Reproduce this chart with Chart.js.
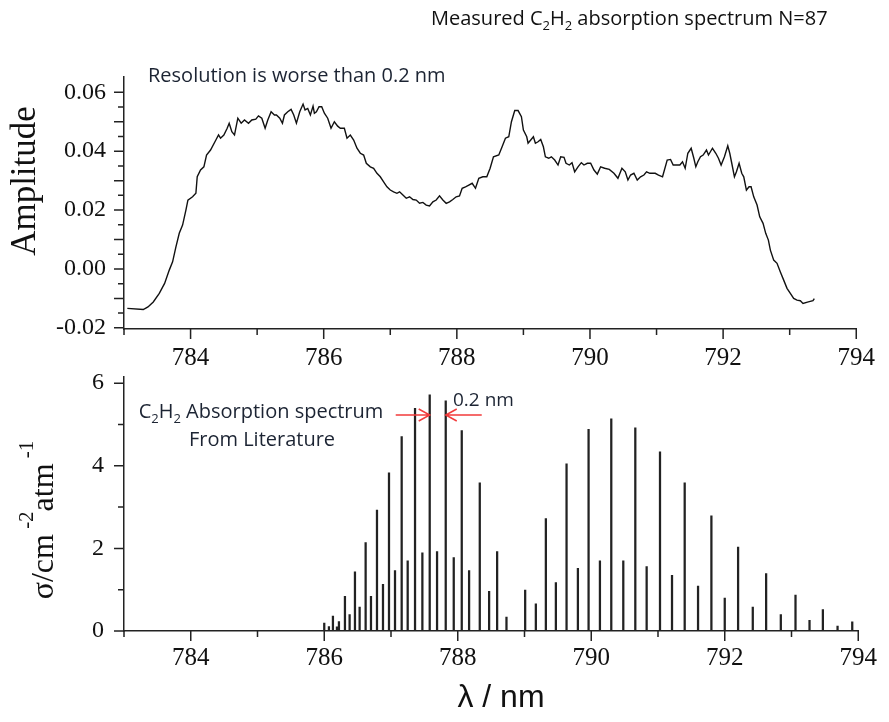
<!DOCTYPE html>
<html>
<head>
<meta charset="utf-8">
<script src="https://cdn.jsdelivr.net/npm/chart.js@4.4.0/dist/chart.umd.min.js"></script>
<style>
  body { margin: 0; background: #fff; }
  canvas { position: absolute; left: 0; top: 0; }
</style>
</head>
<body>
<canvas id="measured" width="889" height="722"></canvas>
<canvas id="literature" width="889" height="722"></canvas>
<script>
// Measured spectrum (top panel)
const measuredWl = [783.05, 783.29, 783.36, 783.44, 783.53, 783.61, 783.68, 783.73, 783.78, 783.83, 783.88, 783.93, 783.96, 784.03, 784.08, 784.10, 784.15, 784.20, 784.24, 784.30,
  784.38, 784.42, 784.45, 784.50, 784.55, 784.58, 784.62, 784.66, 784.71, 784.76, 784.81, 784.87, 784.92, 784.98, 785.02, 785.07, 785.12, 785.16, 785.21, 785.26,
  785.29, 785.34, 785.38, 785.41, 785.46, 785.51, 785.55, 785.59, 785.64, 785.69, 785.72, 785.76, 785.80, 785.84, 785.86, 785.89, 785.93, 785.97, 786.01, 786.06,
  786.11, 786.16, 786.21, 786.25, 786.31, 786.35, 786.40, 786.45, 786.50, 786.55, 786.60, 786.64, 786.70, 786.75, 786.80, 786.85, 786.90, 786.95, 787.00, 787.05,
  787.10, 787.14, 787.19, 787.24, 787.29, 787.34, 787.39, 787.44, 787.49, 787.54, 787.59, 787.64, 787.69, 787.74, 787.79, 787.84, 787.89, 787.94, 787.99, 788.04,
  788.08, 788.13, 788.18, 788.23, 788.28, 788.33, 788.39, 788.45, 788.50, 788.55, 788.63, 788.68, 788.73, 788.78, 788.82, 788.87, 788.92, 788.97, 789.00, 789.05,
  789.07, 789.11, 789.15, 789.18, 789.22, 789.26, 789.30, 789.33, 789.38, 789.42, 789.47, 789.52, 789.56, 789.61, 789.64, 789.69, 789.73, 789.77, 789.82, 789.87,
  789.91, 789.96, 790.01, 790.06, 790.11, 790.16, 790.22, 790.29, 790.36, 790.42, 790.48, 790.53, 790.57, 790.61, 790.66, 790.71, 790.76, 790.81, 790.85, 790.90,
  790.98, 791.03, 791.09, 791.16, 791.21, 791.25, 791.30, 791.35, 791.39, 791.43, 791.47, 791.52, 791.56, 791.59, 791.62, 791.66, 791.70, 791.75, 791.78, 791.84,
  791.89, 791.93, 791.97, 792.02, 792.07, 792.10, 792.13, 792.17, 792.20, 792.24, 792.28, 792.31, 792.35, 792.39, 792.42, 792.46, 792.51, 792.55, 792.60, 792.64,
  792.68, 792.71, 792.76, 792.81, 792.86, 792.91, 792.96, 793.01, 793.06, 793.11, 793.16, 793.20, 793.28, 793.35, 793.37];
const amplitude = [-0.0134, -0.0138, -0.0129, -0.0112, -0.0083, -0.0049, -0.0004, 0.0024, 0.0075, 0.0121, 0.0149, 0.0200, 0.0234, 0.0245, 0.0257, 0.0313, 0.0336, 0.0347, 0.0387, 0.0404,
  0.0438, 0.0455, 0.0444, 0.0455, 0.0478, 0.0495, 0.0466, 0.0455, 0.0512, 0.0495, 0.0506, 0.0495, 0.0506, 0.0509, 0.0520, 0.0512, 0.0478, 0.0506, 0.0534, 0.0523,
  0.0523, 0.0512, 0.0495, 0.0523, 0.0534, 0.0542, 0.0523, 0.0495, 0.0534, 0.0560, 0.0540, 0.0545, 0.0523, 0.0553, 0.0529, 0.0534, 0.0551, 0.0551, 0.0529, 0.0512,
  0.0478, 0.0500, 0.0485, 0.0478, 0.0478, 0.0444, 0.0455, 0.0438, 0.0410, 0.0393, 0.0387, 0.0359, 0.0347, 0.0342, 0.0325, 0.0313, 0.0296, 0.0279, 0.0268, 0.0262,
  0.0257, 0.0262, 0.0251, 0.0240, 0.0245, 0.0236, 0.0234, 0.0223, 0.0226, 0.0217, 0.0214, 0.0228, 0.0234, 0.0248, 0.0234, 0.0223, 0.0228, 0.0236, 0.0245, 0.0248,
  0.0274, 0.0279, 0.0285, 0.0291, 0.0274, 0.0308, 0.0313, 0.0313, 0.0342, 0.0381, 0.0387, 0.0415, 0.0444, 0.0449, 0.0500, 0.0538, 0.0538, 0.0517, 0.0472, 0.0449,
  0.0427, 0.0438, 0.0449, 0.0427, 0.0432, 0.0440, 0.0415, 0.0381, 0.0376, 0.0381, 0.0370, 0.0353, 0.0381, 0.0379, 0.0359, 0.0353, 0.0361, 0.0330, 0.0347, 0.0361,
  0.0353, 0.0359, 0.0359, 0.0336, 0.0322, 0.0347, 0.0342, 0.0338, 0.0325, 0.0308, 0.0342, 0.0330, 0.0302, 0.0319, 0.0325, 0.0302, 0.0313, 0.0319, 0.0330, 0.0325,
  0.0325, 0.0319, 0.0313, 0.0370, 0.0372, 0.0353, 0.0353, 0.0353, 0.0364, 0.0342, 0.0393, 0.0410, 0.0376, 0.0347, 0.0364, 0.0381, 0.0387, 0.0404, 0.0387, 0.0410,
  0.0393, 0.0376, 0.0353, 0.0381, 0.0418, 0.0393, 0.0359, 0.0313, 0.0330, 0.0359, 0.0325, 0.0313, 0.0268, 0.0279, 0.0279, 0.0245, 0.0217, 0.0177, 0.0155, 0.0121,
  0.0098, 0.0064, 0.0030, 0.0019, -0.0010, -0.0038, -0.0066, -0.0083, -0.0100, -0.0106, -0.0108, -0.0117, -0.0112, -0.0108, -0.0101];

// Literature line spectrum (bottom panel)
const lineWl = [786.00, 786.07, 786.13, 786.19, 786.22, 786.31, 786.38, 786.46, 786.53, 786.62, 786.70, 786.79, 786.88, 786.97, 787.06, 787.16, 787.25, 787.36, 787.47, 787.58,
  787.69, 787.82, 787.94, 788.06, 788.17, 788.33, 788.47, 788.59, 788.73, 789.01, 789.17, 789.32, 789.47, 789.63, 789.80, 789.96, 790.13, 790.30, 790.48, 790.66,
  790.83, 791.03, 791.21, 791.40, 791.60, 791.80, 792.00, 792.20, 792.42, 792.62, 792.84, 793.06, 793.27, 793.47, 793.69, 793.91];
const lineSigma = [0.19, 0.11, 0.36, 0.10, 0.23, 0.84, 0.40, 1.43, 0.58, 2.14, 0.84, 2.93, 1.13, 3.83, 1.46, 4.71, 1.70, 5.39, 1.89, 5.72,
  1.92, 5.57, 1.78, 4.85, 1.46, 3.59, 0.96, 1.92, 0.34, 0.99, 0.66, 2.72, 1.17, 4.05, 1.52, 4.88, 1.70, 5.14, 1.70, 4.92,
  1.56, 4.34, 1.35, 3.59, 1.09, 2.79, 0.80, 2.03, 0.58, 1.39, 0.40, 0.87, 0.26, 0.52, 0.12, 0.22];

// Tick positions
const wlTicks = [784, 786, 788, 790, 792, 794];
const wlMinor = [783, 785, 787, 789, 791, 793];
const ampTicks = [-0.02, -0.01, 0, 0.01, 0.02, 0.03, 0.04, 0.05, 0.06];
const ampMinor = [-0.015, -0.005, 0.005, 0.015, 0.025, 0.035, 0.045, 0.055];
const sigmaTicks = [0, 2, 4, 6];
const sigmaMinor = [1, 3, 5];

const serif = '"Liberation Serif", "Times New Roman", serif';
const sans = '"Open Sans", "Liberation Sans", sans-serif';
const axisColor = '#222';

// draw text made of normal / sub / sup pieces
function richText(ctx, parts, x, y, size, family, align) {
  const sizeOf = k => (k === 'n' ? size : Math.round(size * 0.65));
  let w = 0;
  parts.forEach(([t, k]) => { ctx.font = sizeOf(k) + 'px ' + family; w += ctx.measureText(t).width; });
  let cx = align === 'center' ? x - w / 2 : x;
  parts.forEach(([t, k]) => {
    ctx.font = sizeOf(k) + 'px ' + family;
    const dy = k === 'sub' ? size * 0.25 : k === 'sup' ? -size * 0.62 : 0;
    ctx.fillText(t, cx, y + dy);
    cx += ctx.measureText(t).width;
  });
}

function tickMarks(chart, yMajor, yMinor) {
  const ctx = chart.ctx;
  const x = chart.scales.x, y = chart.scales.y;
  const area = chart.chartArea;
  ctx.save();
  ctx.strokeStyle = axisColor;
  ctx.lineWidth = 1.5;
  ctx.beginPath();
  wlTicks.forEach(v => { const px = x.getPixelForValue(v); ctx.moveTo(px, area.bottom); ctx.lineTo(px, area.bottom + 10); });
  wlMinor.forEach(v => { const px = x.getPixelForValue(v); ctx.moveTo(px, area.bottom); ctx.lineTo(px, area.bottom + 6); });
  yMajor.forEach(v => { const py = y.getPixelForValue(v); ctx.moveTo(area.left, py); ctx.lineTo(area.left - 10, py); });
  yMinor.forEach(v => { const py = y.getPixelForValue(v); ctx.moveTo(area.left, py); ctx.lineTo(area.left - 6, py); });
  ctx.stroke();
  ctx.restore();
}

function xScale(labelPad) {
  return {
    type: 'linear', min: 783, max: 794, offset: false,
    grid: { display: false, drawTicks: false, offset: false },
    border: { display: true, color: axisColor, width: 1.5 },
    afterBuildTicks: s => { s.ticks = wlTicks.map(v => ({ value: v })); },
    ticks: { callback: v => String(v), font: { family: serif, size: 25 }, color: '#111', padding: labelPad, maxRotation: 0, autoSkip: false }
  };
}

const topAnnotations = {
  id: 'topAnnotations',
  afterDraw(chart) {
    const ctx = chart.ctx;
    tickMarks(chart, ampTicks, ampMinor);
    ctx.save();
    ctx.fillStyle = '#111';
    ctx.textBaseline = 'alphabetic';
    richText(ctx, [['Measured C', 'n'], ['2', 'sub'], ['H', 'n'], ['2', 'sub'], [' absorption spectrum N=87', 'n']], 431, 25, 20, sans, 'left');
    ctx.fillStyle = '#1c2433';
    richText(ctx, [['Resolution is worse than 0.2 nm', 'n']], 148, 82, 20, sans, 'left');
    ctx.fillStyle = '#111';
    ctx.translate(35, 181);
    ctx.rotate(-Math.PI / 2);
    richText(ctx, [['Amplitude', 'n']], 0, 0, 35, serif, 'center');
    ctx.restore();
  }
};

const bottomAnnotations = {
  id: 'bottomAnnotations',
  afterDraw(chart) {
    const ctx = chart.ctx;
    const x = chart.scales.x;
    tickMarks(chart, sigmaTicks, sigmaMinor);
    ctx.save();
    ctx.fillStyle = '#1c2433';
    ctx.textBaseline = 'alphabetic';
    richText(ctx, [['C', 'n'], ['2', 'sub'], ['H', 'n'], ['2', 'sub'], [' Absorption spectrum', 'n']], 261, 418, 20, sans, 'center');
    richText(ctx, [['From Literature', 'n']], 262, 446, 20, sans, 'center');
    richText(ctx, [['0.2 nm', 'n']], 453, 406, 19, sans, 'left');

    // red arrows pointing at the two strongest lines
    const leftTip = x.getPixelForValue(lineWl[19]);
    const rightTip = x.getPixelForValue(lineWl[21]);
    const ay = 415;
    ctx.strokeStyle = '#f23b3b';
    ctx.lineWidth = 1.5;
    ctx.beginPath();
    ctx.moveTo(leftTip - 34, ay); ctx.lineTo(leftTip, ay);
    ctx.moveTo(leftTip - 11, ay - 6); ctx.lineTo(leftTip, ay); ctx.lineTo(leftTip - 11, ay + 6);
    ctx.moveTo(rightTip + 36, ay); ctx.lineTo(rightTip, ay);
    ctx.moveTo(rightTip + 11, ay - 6); ctx.lineTo(rightTip, ay); ctx.lineTo(rightTip + 11, ay + 6);
    ctx.stroke();

    ctx.fillStyle = '#111';
    richText(ctx, [['λ / nm', 'n']], 501, 707, 32, '"Liberation Sans", Arial, sans-serif', 'center');
    ctx.translate(53, 520);
    ctx.rotate(-Math.PI / 2);
    richText(ctx, [['σ/cm', 'n'], [' -2', 'sup'], ['atm', 'n'], [' -1', 'sup']], 0, 0, 32, serif, 'center');
    ctx.restore();
  }
};

new Chart(document.getElementById('measured'), {
  type: 'line',
  data: {
    datasets: [{
      data: measuredWl.map((w, i) => ({ x: w, y: amplitude[i] })),
      borderColor: '#111',
      borderWidth: 1.4,
      pointRadius: 0,
      tension: 0
    }]
  },
  options: {
    responsive: false,
    animation: false,
    devicePixelRatio: 1,
    layout: { padding: { left: 0, right: 24, top: 77, bottom: 342 } },
    plugins: { legend: { display: false }, tooltip: { enabled: false } },
    scales: {
      x: Object.assign(xScale(14), { afterFit: s => { s.height = 51; } }),
      y: {
        min: -0.0204, max: 0.0652,
        grid: { display: false, drawTicks: false },
        border: { display: true, color: axisColor, width: 1.5 },
        afterBuildTicks: s => { s.ticks = ampTicks.map(v => ({ value: v })); },
        afterFit: s => { s.width = 124; },
        ticks: { callback: v => v.toFixed(2), font: { family: serif, size: 24 }, color: '#111', padding: 18 }
      }
    }
  },
  plugins: [topAnnotations]
});

new Chart(document.getElementById('literature'), {
  type: 'bar',
  data: {
    datasets: [{
      data: lineWl.map((w, i) => ({ x: w, y: lineSigma[i] })),
      backgroundColor: '#222',
      barThickness: 1.6
    }]
  },
  options: {
    responsive: false,
    animation: false,
    devicePixelRatio: 1,
    layout: { padding: { left: 0, right: 24, top: 377, bottom: 0 } },
    plugins: { legend: { display: false }, tooltip: { enabled: false } },
    scales: {
      x: Object.assign(xScale(12), { afterFit: s => { s.height = 91; } }),
      y: {
        min: 0, max: 6.15,
        grid: { display: false, drawTicks: false },
        border: { display: true, color: axisColor, width: 1.5 },
        afterBuildTicks: s => { s.ticks = sigmaTicks.map(v => ({ value: v })); },
        afterFit: s => { s.width = 124; },
        ticks: { callback: v => String(v), font: { family: serif, size: 24 }, color: '#111', padding: 20 }
      }
    }
  },
  plugins: [bottomAnnotations]
});
</script>
</body>
</html>
